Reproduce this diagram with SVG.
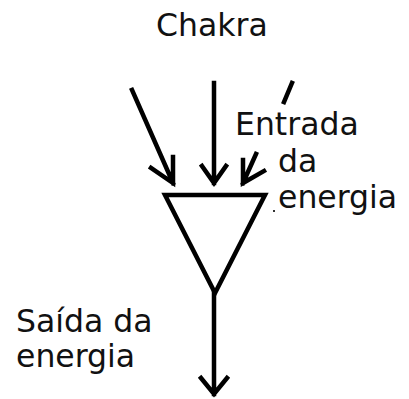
<svg xmlns="http://www.w3.org/2000/svg" width="409" height="399" viewBox="0 0 409 399">
<style>
.t{font-family:"DejaVu Sans",Verdana,sans-serif;font-size:31.5px;fill:#111}
.l{stroke:#000;stroke-width:4.5;fill:none;stroke-linecap:square;stroke-linejoin:miter}
</style>
<rect width="409" height="399" fill="#fff"/>
<g id="chakra-label"><text class="t" x="156" y="36">Chakra</text></g>
<g id="entrada-label"><text class="t" x="235" y="135">Entrada</text><text class="t" x="278" y="172">da</text><text class="t" x="278" y="208">energia</text></g>
<g id="saida-label"><text class="t" x="16" y="332">Saída da</text><text class="t" x="16" y="367">energia</text></g>
<g id="chakra"><polygon class="l" points="165,195 265,195 215,293" stroke-width="5"/></g>
<g id="connectors">
<path class="l" d="M132,90 L173,183 M173,157 L173,183 L151,168"/>
<path class="l" d="M214,83 L214,183 M202,166 L214,183 L226,166"/>
<path class="l" d="M256,154 L243,183 M243,160 L243,183 L264,171"/>
<path class="l" d="M292,83 L284,102"/>
<path class="l" d="M214,293 L214,394 M201,378 L214,394 L227,378"/>
</g>
<rect x="273" y="210" width="2" height="2" fill="#333"/>
</svg>
